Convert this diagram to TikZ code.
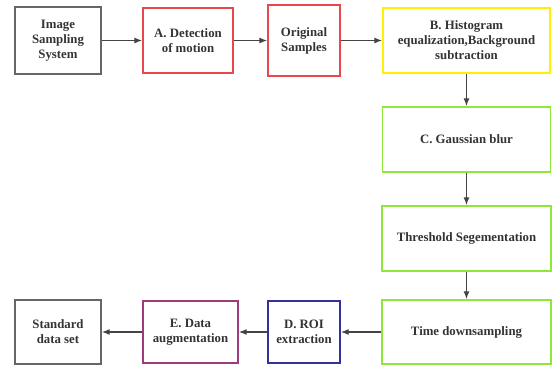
\documentclass[tikz,border=0pt]{standalone}
\usepackage{fontspec}
\setmainfont{Liberation Serif}
\usepackage{tikz}
\usetikzlibrary{arrows.meta}

\definecolor{boxgray}{HTML}{666666}
\definecolor{boxred}{HTML}{E8474B}
\definecolor{boxyellow}{HTML}{FFF000}
\definecolor{boxgreen}{HTML}{8EE83A}
\definecolor{boxnavy}{HTML}{34309A}
\definecolor{boxpurple}{HTML}{9C3C7C}
\definecolor{arrowgray}{HTML}{444444}

\begin{document}
\begin{tikzpicture}[x=1pt,y=-1pt,
  box/.style={draw, line width=1.4pt, align=center, inner sep=2pt,
    font=\fontsize{12.8}{15}\selectfont\bfseries, text=black!80},
  flow/.style={draw=arrowgray, line width=1.2pt, -{Latex[length=8pt,width=6pt]}}]
\useasboundingbox (0,0) rectangle (552,367);
\node[box, draw=boxgray, minimum width=86pt, minimum height=67pt] at (58,40.5) (sys) {Image\\Sampling\\System};
\node[box, draw=boxred, minimum width=90pt, minimum height=65pt] at (188,40.5) (det) {A. Detection\\of motion};
\node[box, draw=boxred, minimum width=72pt, minimum height=71pt] at (304,40.5) (orig) {Original\\Samples};
\node[box, draw=boxyellow, minimum width=167pt, minimum height=65pt] at (466.5,40.5) (hist) {B. Histogram\\equalization,Background\\subtraction};
\node[box, draw=boxgreen, minimum width=168pt, minimum height=65pt] at (466.5,139.5) (blur) {C. Gaussian blur};
\node[box, draw=boxgreen, minimum width=169pt, minimum height=65pt] at (466.5,238.5) (thr) {Threshold Segementation};
\node[box, draw=boxgreen, minimum width=169pt, minimum height=64pt] at (466.5,332) (time) {Time downsampling};
\node[box, draw=boxnavy, minimum width=72pt, minimum height=62pt] at (304,332) (roi) {D. ROI\\extraction};
\node[box, draw=boxpurple, minimum width=95pt, minimum height=62pt] at (190.5,332) (aug) {E. Data\\augmentation};
\node[box, draw=boxgray, minimum width=86pt, minimum height=64pt] at (58,332) (std) {Standard\\data set};
\draw[flow] (sys) -- (det);
\draw[flow] (det) -- (orig);
\draw[flow] (orig) -- (hist);
\draw[flow] (hist) -- (blur);
\draw[flow] (blur) -- (thr);
\draw[flow] (thr) -- (time);
\draw[flow] (time) -- (roi);
\draw[flow] (roi) -- (aug);
\draw[flow] (aug) -- (std);
\end{tikzpicture}
\end{document}
